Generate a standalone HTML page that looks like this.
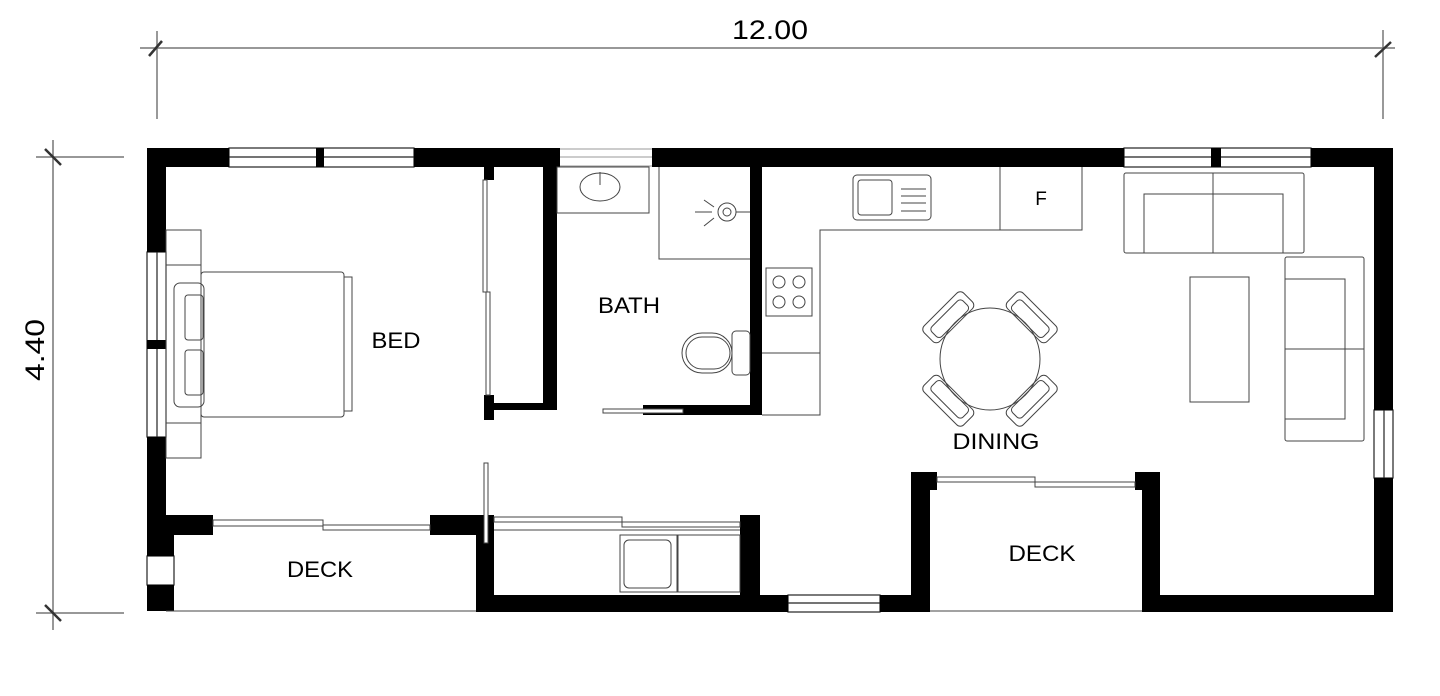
<!DOCTYPE html>
<html><head><meta charset="utf-8"><style>
html,body{margin:0;padding:0;background:#fff;width:1440px;height:696px;overflow:hidden}
svg{display:block}
text{font-family:"Liberation Sans",Arial,sans-serif;fill:#000}
</style></head><body>
<svg width="1440" height="696" viewBox="0 0 1440 696" xmlns="http://www.w3.org/2000/svg">
<!-- dimensions -->
<g stroke="#777" stroke-width="1.5" fill="none">
<line x1="140" y1="48" x2="1395" y2="48"/>
<line x1="157" y1="31" x2="157" y2="119"/>
<line x1="1383" y1="30" x2="1383" y2="119"/>
<line x1="36" y1="157" x2="124" y2="157"/>
<line x1="36" y1="613" x2="124" y2="613"/>
<line x1="53" y1="140" x2="53" y2="630"/>
</g>
<g stroke="#333" stroke-width="2.5">
<line x1="149" y1="56" x2="162" y2="41"/>
<line x1="1375" y1="57" x2="1391" y2="42"/>
<line x1="45" y1="149" x2="61" y2="165"/>
<line x1="45" y1="605" x2="61" y2="621"/>
</g>
<text x="770" y="39" font-size="27" text-anchor="middle" textLength="76" lengthAdjust="spacingAndGlyphs">12.00</text>
<text transform="translate(44,350) rotate(-90)" font-size="27" text-anchor="middle" textLength="62" lengthAdjust="spacingAndGlyphs">4.40</text>

<!-- windows (white w/ lines) -->
<g fill="#fff" stroke="#222" stroke-width="1.2">
<rect x="229" y="148" width="185" height="19"/>
<line x1="229" y1="157" x2="414" y2="157"/>
<rect x="1124" y="148" width="187" height="19"/>
<line x1="1124" y1="157" x2="1311" y2="157"/>
<rect x="147" y="252" width="19" height="185"/>
<line x1="157" y1="252" x2="157" y2="437"/>
<rect x="788" y="595" width="92" height="17"/>
<line x1="788" y1="603" x2="880" y2="603"/>
<rect x="1374" y="410" width="19" height="68"/>
<line x1="1384" y1="410" x2="1384" y2="478"/>
<rect x="147" y="556" width="27" height="29"/>
</g>
<g stroke="#999" stroke-width="1" fill="none">
<line x1="560" y1="149" x2="652" y2="149"/><line x1="560" y1="157" x2="652" y2="157"/><line x1="560" y1="166" x2="652" y2="166"/>
</g>

<!-- walls -->
<g fill="#000">
<rect x="147" y="148" width="82" height="19"/>
<rect x="316" y="148" width="8" height="19"/>
<rect x="414" y="148" width="146" height="19"/>
<rect x="652" y="148" width="472" height="19"/>
<rect x="1211" y="148" width="10" height="19"/>
<rect x="1311" y="148" width="82" height="19"/>
<rect x="147" y="148" width="19" height="104"/>
<rect x="147" y="340" width="19" height="9"/>
<rect x="147" y="437" width="19" height="119"/>
<rect x="147" y="515" width="66" height="20"/>
<rect x="147" y="535" width="27" height="21"/>
<rect x="147" y="585" width="27" height="26"/>
<rect x="1374" y="148" width="19" height="262"/>
<rect x="1374" y="478" width="19" height="134"/>
<rect x="1142" y="595" width="251" height="17"/>
<rect x="1142" y="472" width="18" height="140"/>
<rect x="1135" y="472" width="25" height="18"/>
<rect x="911" y="472" width="19" height="140"/>
<rect x="911" y="472" width="26" height="18"/>
<rect x="476" y="595" width="312" height="17"/>
<rect x="880" y="595" width="50" height="17"/>
<rect x="476" y="515" width="18" height="97"/>
<rect x="430" y="515" width="64" height="20"/>
<rect x="740" y="515" width="20" height="80"/>
<rect x="543" y="167" width="14" height="243"/>
<rect x="486" y="403" width="71" height="7"/>
<rect x="484" y="395" width="10" height="25"/>
<rect x="484" y="167" width="10" height="13"/>
<rect x="750" y="167" width="12" height="248"/>
<rect x="643" y="405" width="119" height="10"/>
</g>

<!-- thin lines -->
<g stroke="#444" stroke-width="1" fill="none">
<line x1="166" y1="611" x2="476" y2="611"/>
<line x1="930" y1="611" x2="1142" y2="611"/>
<rect x="213" y="520" width="110" height="6"/><rect x="323" y="525" width="107" height="5"/>
<rect x="937" y="477" width="98" height="5"/><rect x="1035" y="482" width="100" height="5"/>
<rect x="494" y="517" width="128" height="5"/><rect x="622" y="522" width="118" height="5"/>
<rect x="484" y="463" width="4" height="80" fill="#fff"/>
<rect x="483" y="180" width="4" height="112"/><rect x="486" y="292" width="4" height="103"/>
<rect x="603" y="409" width="80" height="4" fill="#fff"/>
<!-- bedroom furniture -->
<rect x="166" y="230" width="35" height="35"/>
<rect x="166" y="423" width="35" height="35"/>
<rect x="166" y="265" width="35" height="158"/>
<rect x="174" y="283" width="30" height="124" rx="6"/>
<rect x="185" y="295" width="18" height="45" rx="3"/>
<rect x="185" y="350" width="18" height="45" rx="3"/>
<rect x="201" y="272" width="143" height="145" rx="3"/>
<rect x="344" y="277" width="8" height="134"/>
<!-- bath -->
<rect x="557" y="167" width="92" height="46"/>
<ellipse cx="600" cy="187" rx="20" ry="14"/>
<line x1="600" y1="172" x2="600" y2="185"/>
<polyline points="659,167 659,259 750,259"/>
<circle cx="727" cy="212" r="9"/><circle cx="727" cy="212" r="4"/>
<line x1="736" y1="212" x2="750" y2="212"/>
<line x1="695" y1="212" x2="712" y2="212"/><line x1="704" y1="200" x2="714" y2="207"/><line x1="704" y1="226" x2="714" y2="218"/>
<rect x="682" y="333" width="50" height="40" rx="20"/>
<rect x="686" y="337" width="44" height="32" rx="16"/>
<rect x="732" y="331" width="18" height="44" rx="4"/>
<!-- kitchen -->
<polyline points="762,353 820,353"/>
<polyline points="762,415 820,415 820,230 1082,230 1082,167"/>
<line x1="1000" y1="167" x2="1000" y2="230"/>
<rect x="853" y="175" width="78" height="45" rx="4"/>
<rect x="858" y="180" width="34" height="35" rx="3"/>
<line x1="901" y1="189" x2="926" y2="189"/><line x1="901" y1="196" x2="926" y2="196"/><line x1="901" y1="203" x2="926" y2="203"/><line x1="901" y1="211" x2="926" y2="211"/>
<rect x="766" y="268" width="46" height="48"/>
<circle cx="779" cy="282" r="6"/><circle cx="799" cy="282" r="6"/><circle cx="779" cy="302" r="6"/><circle cx="799" cy="302" r="6"/>
<!-- laundry -->
<line x1="494" y1="530" x2="740" y2="530"/>
<rect x="620" y="535" width="57" height="57"/><rect x="624" y="540" width="47" height="48" rx="5"/>
<rect x="678" y="535" width="62" height="57"/>
<!-- dining -->
<ellipse cx="990" cy="359" rx="50" ry="51"/>
<g transform="translate(990,359)">
<g transform="rotate(-45)"><rect x="-28" y="-70" width="56" height="22" rx="5"/><rect x="-22" y="-64" width="44" height="14" rx="4"/></g>
<g transform="rotate(45)"><rect x="-28" y="-70" width="56" height="22" rx="5"/><rect x="-22" y="-64" width="44" height="14" rx="4"/></g>
<g transform="rotate(135)"><rect x="-28" y="-70" width="56" height="22" rx="5"/><rect x="-22" y="-64" width="44" height="14" rx="4"/></g>
<g transform="rotate(225)"><rect x="-28" y="-70" width="56" height="22" rx="5"/><rect x="-22" y="-64" width="44" height="14" rx="4"/></g>
</g>
<!-- living -->
<rect x="1124" y="173" width="180" height="80" rx="2"/>
<line x1="1213" y1="173" x2="1213" y2="253"/>
<rect x="1144" y="194" width="139" height="59"/>
<rect x="1190" y="277" width="59" height="125"/>
<rect x="1285" y="257" width="79" height="184" rx="2"/>
<rect x="1285" y="279" width="60" height="140"/>
<line x1="1285" y1="349" x2="1364" y2="349"/>
</g>

<text x="396" y="348" font-size="22" text-anchor="middle" textLength="49" lengthAdjust="spacingAndGlyphs">BED</text>
<text x="629" y="313" font-size="22" text-anchor="middle" textLength="62" lengthAdjust="spacingAndGlyphs">BATH</text>
<text x="1041" y="205" font-size="19" text-anchor="middle">F</text>
<text x="996" y="449" font-size="22" text-anchor="middle" textLength="87" lengthAdjust="spacingAndGlyphs">DINING</text>
<text x="1042" y="561" font-size="22" text-anchor="middle" textLength="67" lengthAdjust="spacingAndGlyphs">DECK</text>
<text x="320" y="577" font-size="22" text-anchor="middle" textLength="66" lengthAdjust="spacingAndGlyphs">DECK</text>
</svg>
</body></html>
